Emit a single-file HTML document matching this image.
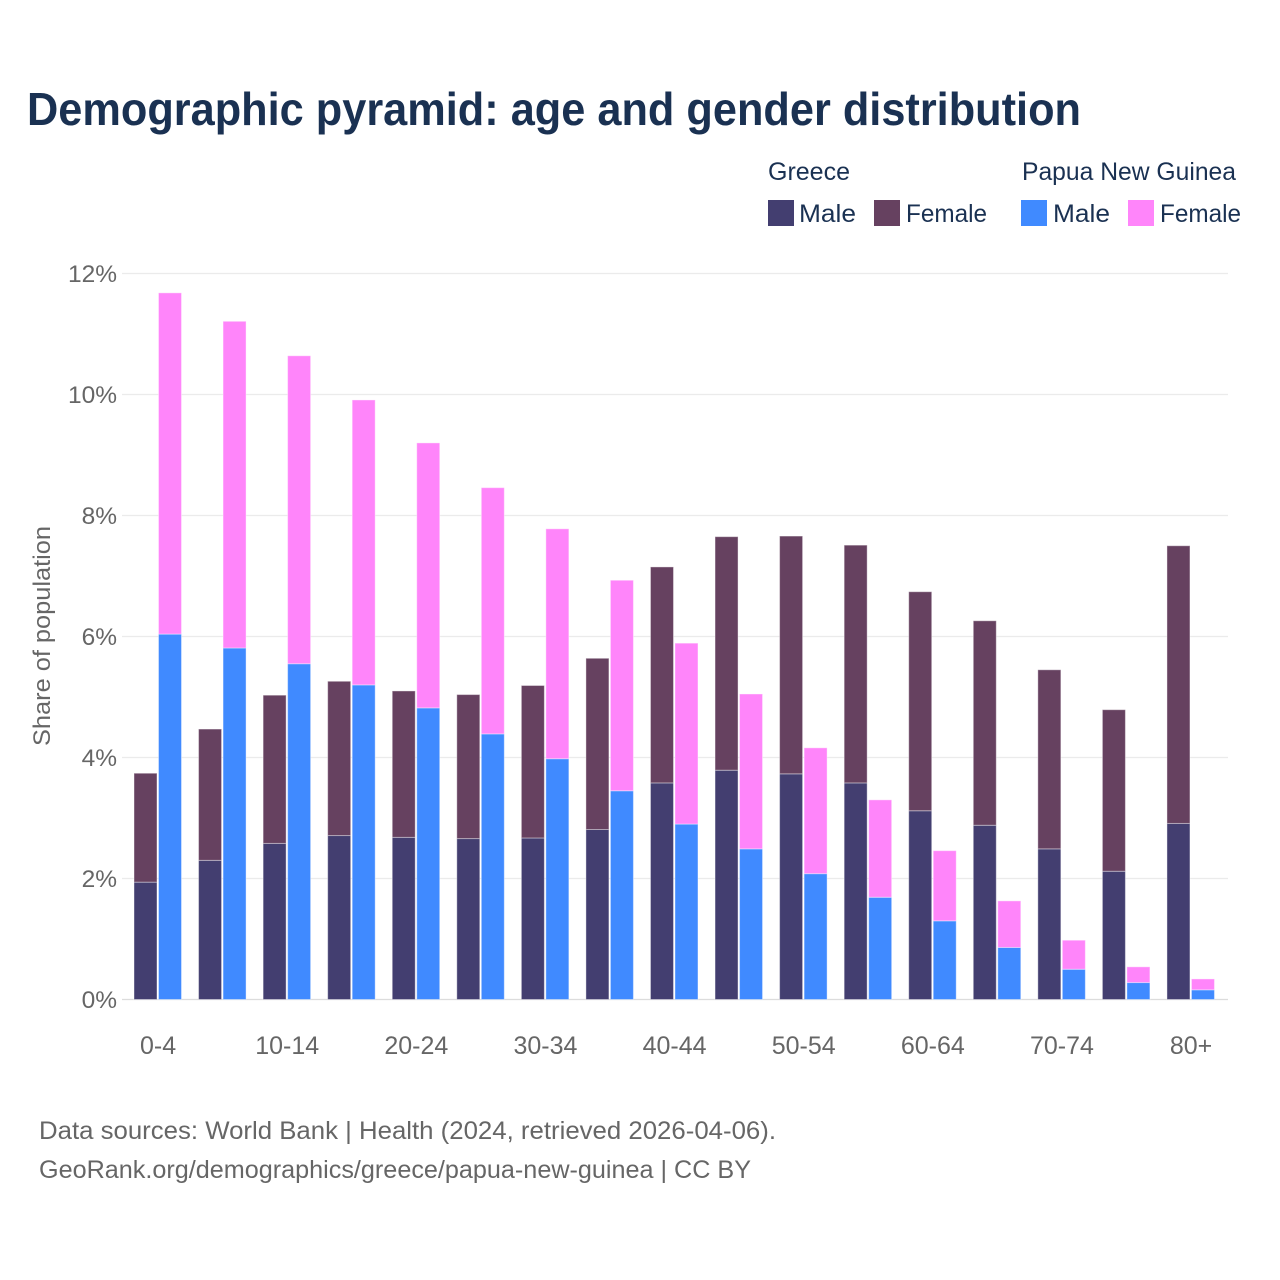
<!DOCTYPE html>
<html lang="en">
<head>
<meta charset="utf-8">
<title>Demographic pyramid</title>
<style>
html,body{margin:0;padding:0;background:#fff;width:1280px;height:1280px;overflow:hidden}
svg{display:block}
text{font-family:"Liberation Sans",sans-serif}
</style>
</head>
<body>
<svg id="chart" width="1280" height="1280" viewBox="0 0 1280 1280" xmlns="http://www.w3.org/2000/svg">
<rect width="1280" height="1280" fill="#fff"/>
<text x="27" y="125" font-size="46" font-weight="700" fill="#1a3152" textLength="1054" lengthAdjust="spacingAndGlyphs">Demographic pyramid: age and gender distribution</text>
<g id="grid"></g>
<g id="bars"></g>
<g id="xaxis"></g>
<g id="yaxis"></g>
<text transform="translate(50,636) rotate(-90)" text-anchor="middle" font-size="24" fill="#666" textLength="220" lengthAdjust="spacingAndGlyphs">Share of population</text>
<g>
<text x="768" y="180" font-size="25" fill="#1a3152" textLength="82" lengthAdjust="spacingAndGlyphs">Greece</text>
<text x="1022" y="180" font-size="25" fill="#1a3152" textLength="214" lengthAdjust="spacingAndGlyphs">Papua New Guinea</text>
<rect x="768" y="200" width="26" height="26" fill="#433e70"/>
<text x="799" y="222" font-size="25" fill="#1a3152" textLength="57" lengthAdjust="spacingAndGlyphs">Male</text>
<rect x="874" y="200" width="26" height="26" fill="#664160"/>
<text x="906" y="222" font-size="25" fill="#1a3152" textLength="81" lengthAdjust="spacingAndGlyphs">Female</text>
<rect x="1021" y="200" width="26" height="26" fill="#408aff"/>
<text x="1053" y="222" font-size="25" fill="#1a3152" textLength="57" lengthAdjust="spacingAndGlyphs">Male</text>
<rect x="1128" y="200" width="26" height="26" fill="#ff85fa"/>
<text x="1160" y="222" font-size="25" fill="#1a3152" textLength="81" lengthAdjust="spacingAndGlyphs">Female</text>
</g>
<text x="39" y="1139" font-size="25" fill="#666" textLength="737" lengthAdjust="spacingAndGlyphs">Data sources: World Bank | Health (2024, retrieved 2026-04-06).</text>
<text x="39" y="1178" font-size="25" fill="#666" textLength="712" lengthAdjust="spacingAndGlyphs">GeoRank.org/demographics/greece/papua-new-guinea | CC BY</text>
</svg>
<script>
const categories = ["0-4","5-9","10-14","15-19","20-24","25-29","30-34","35-39","40-44","45-49","50-54","55-59","60-64","65-69","70-74","75-79","80+"];
const tickCategories = ["0-4","10-14","20-24","30-34","40-44","50-54","60-64","70-74","80+"];
const yTicks = [0,2,4,6,8,10,12];
const greeceMale = [1.94,2.30,2.58,2.71,2.68,2.66,2.67,2.81,3.58,3.79,3.73,3.58,3.12,2.88,2.49,2.12,2.91];
const greeceFemale = [1.80,2.17,2.45,2.55,2.42,2.38,2.52,2.83,3.57,3.86,3.93,3.93,3.62,3.38,2.96,2.67,4.59];
const pngMale = [6.04,5.81,5.55,5.20,4.82,4.39,3.98,3.45,2.90,2.49,2.08,1.69,1.30,0.86,0.50,0.28,0.16];
const pngFemale = [5.64,5.40,5.09,4.71,4.38,4.07,3.80,3.48,2.99,2.56,2.08,1.61,1.16,0.77,0.48,0.26,0.18];

const NS = "http://www.w3.org/2000/svg";
function yScale(v){ return 999.5 - v * 60.5; }
function xScale(i){ return 158.1 + i * 64.56; }
function make(tag, attrs, parent){
  const el = document.createElementNS(NS, tag);
  for (const k in attrs) el.setAttribute(k, attrs[k]);
  parent.appendChild(el);
  return el;
}
const grid = document.getElementById("grid");
const bars = document.getElementById("bars");
const xaxis = document.getElementById("xaxis");
const yaxis = document.getElementById("yaxis");

yTicks.forEach(function(t){
  const line = make("line", {x1:122, x2:1228, y1:yScale(t), y2:yScale(t), stroke: t === 0 ? "#dcdcdc" : "#ebebeb", "stroke-width":1.2}, grid);
  
  
  const label = make("text", {x:117, y:yScale(t)+8.5, "text-anchor":"end", "font-size":24.5, fill:"#666"}, yaxis);
  label.textContent = t + "%";
  
  
});

function segment(x, base, value, fill, name){
  const top = yScale(base + value);
  const bottom = yScale(base);
  const r = make("rect", {x:x, y:top, width:23, height:bottom-top, fill:fill, stroke:"#fff", "stroke-opacity":0.4, "stroke-width":1}, bars);
  
  
}
categories.forEach(function(c, i){
  const cx = xScale(i);
  segment(cx-24.1, 0, greeceMale[i], "#433e70", "bar-greece-male");
  segment(cx-24.1, greeceMale[i], greeceFemale[i], "#664160", "bar-greece-female");
  segment(cx+0.4, 0, pngMale[i], "#408aff", "bar-png-male");
  segment(cx+0.4, pngMale[i], pngFemale[i], "#ff85fa", "bar-png-female");
  if (tickCategories.indexOf(c) >= 0) {
    const label = make("text", {x:cx, y:1054, "text-anchor":"middle", "font-size":25, fill:"#666"}, xaxis);
    label.textContent = c;
    
    
  }
});
</script>
</body>
</html>
